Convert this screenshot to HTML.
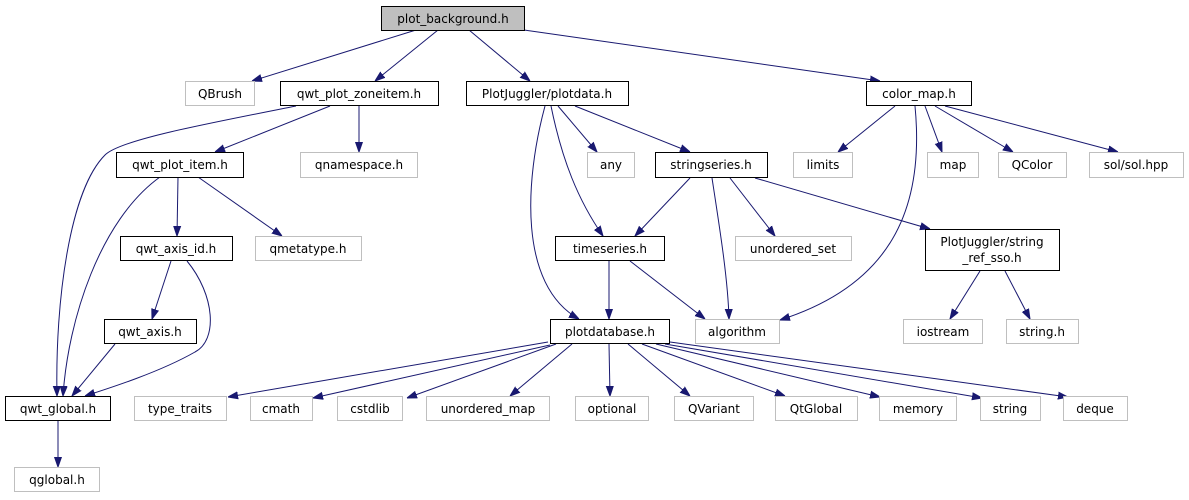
<!DOCTYPE html>
<html><head><meta charset="utf-8"><style>
html,body{margin:0;padding:0;background:#fff;}
svg{display:block;}
text{font-family:"DejaVu Sans","Liberation Sans",sans-serif;font-size:12px;fill:#000;}
.b{fill:#fff;stroke:#000;stroke-width:1;}
.g{fill:#fff;stroke:#bfbfbf;stroke-width:1;}
.e{fill:none;stroke:#191970;stroke-width:1;marker-end:url(#a);}
</style></head><body>
<svg width="1189" height="500" viewBox="0 0 1189 500">
<defs><marker id="a" viewBox="0 0 10 10" refX="10" refY="5" markerWidth="10" markerHeight="10" markerUnits="userSpaceOnUse" orient="auto"><path d="M0,1.5 L10,5 L0,8.5 z" fill="#191970" stroke="#191970"/></marker></defs>
<!-- edges -->
<path class="e" d="M416,30 L252,81"/>
<path class="e" d="M438,30 L375,81"/>
<path class="e" d="M469,30 L530,81"/>
<path class="e" d="M524,30 L880,81"/>
<path class="e" d="M296,106 C200,125 120,140 105,155 C70,190 55,300 57,396"/>
<path class="e" d="M330,106 L215,152"/>
<path class="e" d="M359,106 L359,152"/>
<path class="e" d="M160,177 C100,220 68,320 63,396"/>
<path class="e" d="M178,177 L177,236"/>
<path class="e" d="M198,177 L282,236"/>
<path class="e" d="M171,261 L152,319"/>
<path class="e" d="M187,261 C215,295 218,340 195,352 C160,372 110,388 85,396"/>
<path class="e" d="M115,344 L72,396"/>
<path class="e" d="M58,421 L58,467"/>
<path class="e" d="M545,106 C525,180 518,285 579,319"/>
<path class="e" d="M551,106 C562,160 578,200 603,236"/>
<path class="e" d="M558,106 L597,152"/>
<path class="e" d="M575,106 L690,152"/>
<path class="e" d="M690,178 L635,236"/>
<path class="e" d="M712,178 C720,230 728,280 729,319"/>
<path class="e" d="M730,178 L775,236"/>
<path class="e" d="M755,178 L930,229"/>
<path class="e" d="M609,261 L609,319"/>
<path class="e" d="M630,261 L705,319"/>
<path class="e" d="M895,106 L838,152"/>
<path class="e" d="M915,106 C925,210 890,285 780,320"/>
<path class="e" d="M925,106 L942,152"/>
<path class="e" d="M935,106 L1013,152"/>
<path class="e" d="M945,106 L1118,152"/>
<path class="e" d="M980,271 L950,319"/>
<path class="e" d="M1005,271 L1030,319"/>
<path class="e" d="M548,342 L228,397"/>
<path class="e" d="M550,345 L313,398"/>
<path class="e" d="M556,344 L407,398"/>
<path class="e" d="M572,344 L510,396"/>
<path class="e" d="M609,344 L610,396"/>
<path class="e" d="M628,344 L690,396"/>
<path class="e" d="M642,344 L785,396"/>
<path class="e" d="M656,344 L880,397"/>
<path class="e" d="M665,344 L982,398"/>
<path class="e" d="M670,342 L1068,397"/>
<!-- nodes -->
<rect x="381.5" y="6.5" width="143" height="24" fill="#bfbfbf" stroke="#000"/><text x="453" y="23" text-anchor="middle">plot_background.h</text>
<rect class="g" x="185.5" y="81.5" width="69" height="24"/><text x="220" y="98" text-anchor="middle">QBrush</text>
<rect class="b" x="280.5" y="81.5" width="158" height="24"/><text x="359" y="98" text-anchor="middle">qwt_plot_zoneitem.h</text>
<rect class="b" x="466.5" y="81.5" width="162" height="24"/><text x="547" y="98" text-anchor="middle">PlotJuggler/plotdata.h</text>
<rect class="b" x="866.5" y="81.5" width="105" height="24"/><text x="919" y="98" text-anchor="middle">color_map.h</text>
<rect class="b" x="116.5" y="152.5" width="127" height="25"/><text x="180" y="169" text-anchor="middle">qwt_plot_item.h</text>
<rect class="g" x="300.5" y="152.5" width="117" height="25"/><text x="359" y="169" text-anchor="middle">qnamespace.h</text>
<rect class="g" x="587.5" y="152.5" width="47" height="25"/><text x="611" y="169" text-anchor="middle">any</text>
<rect class="b" x="655.5" y="152.5" width="112" height="25"/><text x="711" y="169" text-anchor="middle">stringseries.h</text>
<rect class="g" x="793.5" y="152.5" width="59" height="25"/><text x="823" y="169" text-anchor="middle">limits</text>
<rect class="g" x="927.5" y="152.5" width="51" height="25"/><text x="953" y="169" text-anchor="middle">map</text>
<rect class="g" x="998.5" y="152.5" width="68" height="25"/><text x="1032" y="169" text-anchor="middle">QColor</text>
<rect class="g" x="1089.5" y="152.5" width="94" height="25"/><text x="1136" y="169" text-anchor="middle">sol/sol.hpp</text>
<rect class="b" x="120.5" y="236.5" width="112" height="24"/><text x="176" y="253" text-anchor="middle">qwt_axis_id.h</text>
<rect class="g" x="255.5" y="236.5" width="106" height="24"/><text x="308" y="253" text-anchor="middle">qmetatype.h</text>
<rect class="b" x="555.5" y="236.5" width="109" height="24"/><text x="610" y="253" text-anchor="middle">timeseries.h</text>
<rect class="g" x="735.5" y="236.5" width="116" height="24"/><text x="793" y="253" text-anchor="middle">unordered_set</text>
<rect class="b" x="925.5" y="229.5" width="134" height="41"/><text x="992" y="246" text-anchor="middle">PlotJuggler/string</text><text x="992" y="262" text-anchor="middle">_ref_sso.h</text>
<rect class="b" x="104.5" y="319.5" width="92" height="24"/><text x="150" y="336" text-anchor="middle">qwt_axis.h</text>
<rect class="b" x="550.5" y="319.5" width="119" height="24"/><text x="610" y="336" text-anchor="middle">plotdatabase.h</text>
<rect class="g" x="695.5" y="319.5" width="84" height="24"/><text x="737" y="336" text-anchor="middle">algorithm</text>
<rect class="g" x="903.5" y="319.5" width="79" height="24"/><text x="943" y="336" text-anchor="middle">iostream</text>
<rect class="g" x="1006.5" y="319.5" width="72" height="24"/><text x="1042" y="336" text-anchor="middle">string.h</text>
<rect class="b" x="5.5" y="396.5" width="105" height="24"/><text x="58" y="413" text-anchor="middle">qwt_global.h</text>
<rect class="g" x="134.5" y="396.5" width="92" height="24"/><text x="180" y="413" text-anchor="middle">type_traits</text>
<rect class="g" x="250.5" y="396.5" width="62" height="24"/><text x="281" y="413" text-anchor="middle">cmath</text>
<rect class="g" x="337.5" y="396.5" width="65" height="24"/><text x="370" y="413" text-anchor="middle">cstdlib</text>
<rect class="g" x="426.5" y="396.5" width="123" height="24"/><text x="488" y="413" text-anchor="middle">unordered_map</text>
<rect class="g" x="575.5" y="396.5" width="73" height="24"/><text x="612" y="413" text-anchor="middle">optional</text>
<rect class="g" x="674.5" y="396.5" width="79" height="24"/><text x="714" y="413" text-anchor="middle">QVariant</text>
<rect class="g" x="775.5" y="396.5" width="82" height="24"/><text x="816" y="413" text-anchor="middle">QtGlobal</text>
<rect class="g" x="879.5" y="396.5" width="77" height="24"/><text x="918" y="413" text-anchor="middle">memory</text>
<rect class="g" x="980.5" y="396.5" width="60" height="24"/><text x="1010" y="413" text-anchor="middle">string</text>
<rect class="g" x="1063.5" y="396.5" width="64" height="24"/><text x="1095" y="413" text-anchor="middle">deque</text>
<rect class="g" x="14.5" y="467.5" width="85" height="24"/><text x="57" y="484" text-anchor="middle">qglobal.h</text>
</svg>
</body></html>
